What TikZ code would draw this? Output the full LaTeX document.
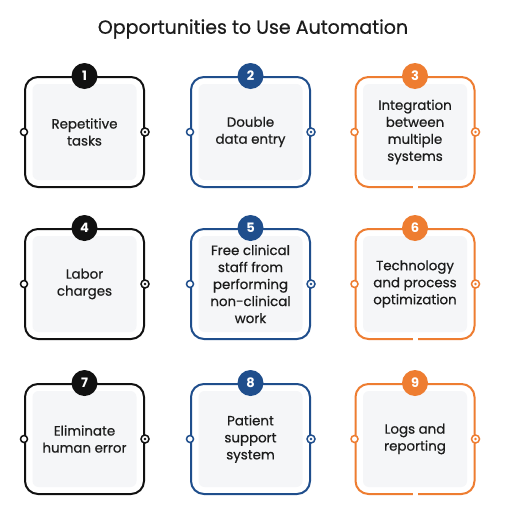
\documentclass[tikz,border=0pt]{standalone}
\usepackage{fontspec}
\setmainfont{Poppins}[UprightFeatures={FakeBold=0.6}]
\usepackage{tikz}
\definecolor{ink}{HTML}{111111}
\definecolor{navy}{HTML}{1F4E8C}
\definecolor{amber}{HTML}{EE7D31}
\definecolor{paper}{HTML}{F5F6F8}
\definecolor{text}{HTML}{1C1C1C}
\tikzset{
  frame/.style={draw=#1, line width=2pt, rounded corners=13pt, minimum width=119pt, minimum height=110pt, inner sep=0pt},
  panel/.style={fill=paper, rounded corners=6pt, minimum width=104pt, minimum height=96pt, inner sep=0pt},
  lab/.style={text=text, font=\fontsize{13.4}{17}\selectfont, align=center},
  badge/.style={circle, fill=#1, text=white, minimum size=26pt, inner sep=0pt, font=\fontsize{13}{13}\selectfont\bfseries},
  pinL/.style={circle, draw=#1, fill=white, line width=1.5pt, minimum size=7pt, inner sep=0pt},
  pinR/.style={circle, draw=#1, fill=white, line width=1.5pt, minimum size=8pt, inner sep=0pt,
    path picture={\fill[#1] (path picture bounding box.center) circle (1.4pt);}},
  gap/.style={fill=white, minimum width=5pt, minimum height=5pt, inner sep=0pt},
  title/.style={text=text, font=\fontsize{19}{19}\selectfont},
}
\begin{document}
\begin{tikzpicture}[x=1pt, y=-1pt]
  \path[use as bounding box, fill=white] (0,0) rectangle (506,522);
  \node[title] (head) at (253,29) {Opportunities to Use Automation};
  \foreach \n/\cx/\cy/\col/\txt in {
      1/84.5/132/ink/{Repetitive\\tasks},
      2/250.5/132/navy/{Double\\data entry},
      3/415/132/amber/{Integration\\between\\multiple\\systems},
      4/84.5/284/ink/{Labor\\charges},
      5/250.5/284/navy/{Free clinical\\staff from\\performing\\non-clinical\\work},
      6/415/284/amber/{Technology\\and process\\optimization},
      7/84.5/439/ink/{Eliminate\\human error},
      8/250.5/439/navy/{Patient\\support\\system},
      9/415/439/amber/{Logs and\\reporting}}{
    \node[frame=\col] (card\n) at (\cx,\cy) {};
    \node[panel] (panel\n) at (card\n) {};
    \node[lab] (txt\n) at (card\n) {\txt};
    \node[badge=\col] (num\n) at (card\n.north) {\n};
    \node[pinL=\col] (in\n) at (card\n.west) {};
    \node[pinR=\col] (out\n) at (card\n.east) {};
  }
  \node[gap] (gap3) at (card3.south) {};
  \node[gap] (gap6) at (card6.south) {};
  \node[gap] (gap9) at (card9.south) {};
\end{tikzpicture}
\end{document}
